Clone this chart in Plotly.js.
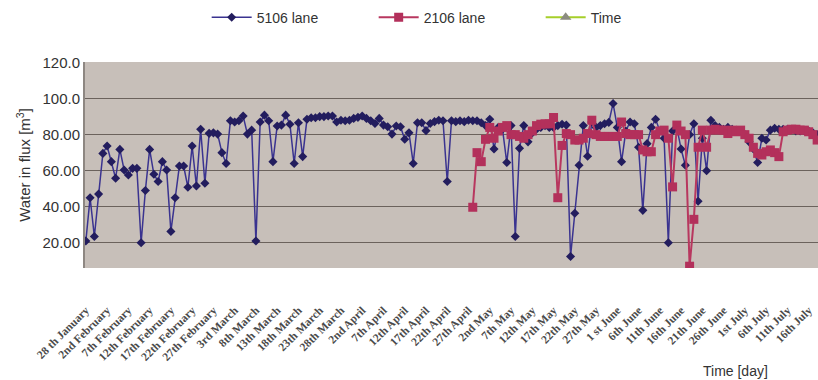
<!DOCTYPE html>
<html>
<head>
<meta charset="utf-8">
<script src="https://cdn.plot.ly/plotly-3.0.1.min.js"></script>
<style>html,body{margin:0;padding:0;background:#fff;}#chart{width:818px;height:380px;}</style>
</head>
<body>
<div id="chart"></div>
<script>
// Tick labels, one every 5 days starting at 28 January
var dayLabels = ["28 th January","2nd February","7th February","12th February","17th February","22th February","27th February","3rd March","8th March","13th March","18th March","23th March","28th March","2nd April","7th April","12th April","17th April","22th April","27th April","2nd May","7th May","12th May","17th May","22th May","27th May","1 st June","6th June","11th June","16th June","21th June","26th June","1st July","6th July","11th July","16th July"];

// 5106 lane, daily values from day 0 (28 January)
var lane5106 = [21,45,23.5,47,69.6,73.7,65,55.8,71.8,60.4,
57.6,61.3,61.3,20,49,71.8,58,54,65,60.4,
26.3,45,62.6,62.6,50.8,73.7,51.5,83,53,80.7,
81,80.3,70,64,87.7,87,87.7,90.3,80.3,82.5,
21,87,90.8,87.7,65,84.8,85.3,90.8,85.8,64,
86.6,67.8,88.5,89.4,89.4,90,90,90.3,90.3,87,
88,87.7,88,89,89.6,90.3,89,87.7,86.2,89,
85.3,84.4,80.3,84.8,84.4,77.4,81,64,86.6,86.6,
82.2,86.2,87.2,88,87.7,54,87.7,87.2,87.7,87.2,
88,87.7,87.7,86.6,85,88.5,72,84,83,64.5,
85,23.5,72.4,85,76,81,83,84,85,84,
84,85,85.8,85.3,12.4,36.4,63,85,68,87,
84,85,86,86.8,97.3,84,65,82,87,86,
73,38,75,84,88.5,82,78,20,82,84,
72,63,80,86,43,78,60,88,85,84,
83,84,83,82,82,80,76,72,64.5,78,
77,82.5,83.5,83,83,83,83,82,82,82,
82,81,80];

// 2106 lane, daily values (no data before day 91)
var lane2106 = [];
for (var i = 0; i < 91; i++) lane2106.push(null);
lane2106 = lane2106.concat([39.7,70,65,77.4,84,78,82,84,85,
80,80,79,78,80,82,85,85.8,86,86,
89.5,45,74,80.6,80,77,77,78,80.6,88,
80,79,79,79,79,79,87,80.6,80,80,
80,71.5,70.5,70.5,80,82,82.5,78,51,85.3,
82,80,7,33,73,82.5,73,82.5,83,82.5,
82.5,80.6,82.5,81.6,82.5,80,78,73,69.6,68.7,
70.5,71.5,70,67.8,81.6,82.5,83,83,82.5,82.5,
81.6,80,77]);

// Time series (legend entry only, no plotted values)
var timeValues = [null];

var yTickVals = [20,40,60,80,100,120];
var yTickText = ["20.00","40.00","60.00","80.00","100.0","120.0"];

var days = lane5106.map(function(_, i){ return i; });
var tickVals = dayLabels.map(function(_, i){ return i * 5; });

var traces = [
  {x: days, y: lane5106, name: '5106 lane', type: 'scatter', mode: 'lines+markers',
   line: {color: '#3a3390', width: 1.5},
   marker: {symbol: 'diamond', size: 7, color: '#231d5e'}},
  {x: days, y: lane2106, name: '2106 lane', type: 'scatter', mode: 'lines+markers',
   line: {color: '#b8375f', width: 2},
   marker: {symbol: 'square', size: 9, color: '#b3305b'}},
  {x: [0], y: timeValues, name: 'Time', type: 'scatter', mode: 'lines+markers',
   line: {color: '#a6cf2a', width: 2},
   marker: {symbol: 'triangle-up', size: 10, color: '#8c8c80'}}
];

var layout = {
  width: 818, height: 380,
  margin: {l: 85, r: 0, t: 62, b: 112},
  paper_bgcolor: '#ffffff',
  plot_bgcolor: '#c7bfb9',
  font: {family: 'Liberation Sans, Arial, sans-serif', color: '#333', size: 14},
  showlegend: true,
  legend: {orientation: 'h', x: 0.166, xanchor: 'left', y: 1.215, yanchor: 'middle',
           itemwidth: 40, entrywidth: 112, entrywidthmode: 'pixels',
           font: {size: 14, color: '#333'}, bgcolor: 'rgba(0,0,0,0)'},
  xaxis: {
    range: [-0.2, 172.2],
    tickvals: tickVals, ticktext: dayLabels, tickangle: -45,
    ticks: 'outside', ticklen: 30, tickcolor: 'rgba(0,0,0,0)',
    tickfont: {family: 'Liberation Serif, Times New Roman, serif', size: 11.5, color: '#4a4a4a', weight: 'bold'},
    showgrid: false, zeroline: false, showline: false
  },
  yaxis: {
    range: [6, 120.3],
    tickvals: yTickVals, ticktext: yTickText,
    tickfont: {size: 15, color: '#333'},
    showgrid: true, gridcolor: '#6b625c', gridwidth: 1,
    zeroline: false, showline: true, linecolor: '#8e8782', linewidth: 2,
    ticks: '',
    title: {text: 'Water in flux [m<sup>3</sup>]', font: {size: 15, color: '#333'}, standoff: 8}
  },
  annotations: [
    {text: 'Time [day]', xref: 'paper', yref: 'paper', x: 0.888, y: -0.5, xanchor: 'center', yanchor: 'middle',
     showarrow: false, font: {size: 14, color: '#333'}}
  ]
};

Plotly.newPlot('chart', traces, layout, {displayModeBar: false, staticPlot: true});
</script>
</body>
</html>
